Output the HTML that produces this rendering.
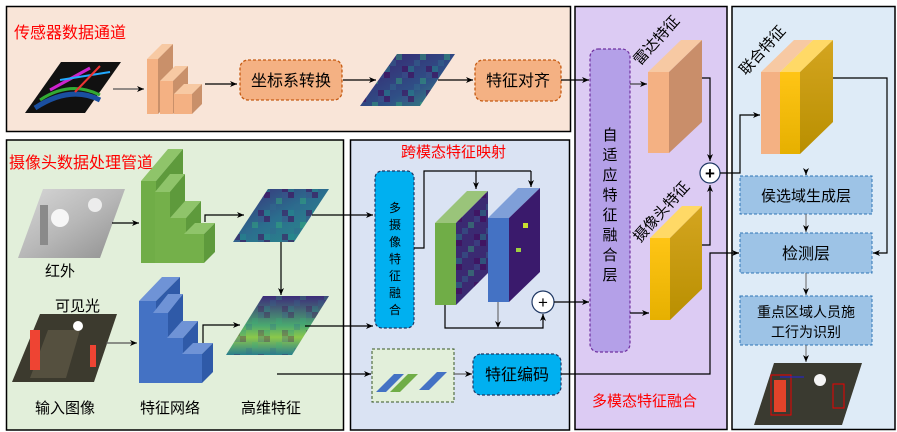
<!DOCTYPE html>
<html><head><meta charset="utf-8"><style>
html,body{margin:0;padding:0;background:#fff;}
svg{display:block;font-family:"Liberation Sans","Noto Sans CJK SC",sans-serif;}
</style></head><body>
<svg width="897" height="432" viewBox="0 0 897 432" xmlns="http://www.w3.org/2000/svg">
<defs>
<marker id="a" markerWidth="8" markerHeight="8" refX="7" refY="4" orient="auto" markerUnits="userSpaceOnUse"><path d="M0,1 L7,4 L0,7 L2,4Z" fill="#000"/></marker>
<linearGradient id="hm1" x1="0" y1="0" x2="1" y2="1"><stop offset="0" stop-color="#3b2a78"/><stop offset=".5" stop-color="#2b6e8e"/><stop offset="1" stop-color="#2a8f8a"/></linearGradient>
<linearGradient id="hm2" x1="0" y1="0" x2="0" y2="1"><stop offset="0" stop-color="#3d2c7a"/><stop offset=".5" stop-color="#4aa870"/><stop offset=".7" stop-color="#8cc84a"/><stop offset="1" stop-color="#2a7f8e"/></linearGradient>
<linearGradient id="hm0" x1="0" y1="0" x2="1" y2="1"><stop offset="0" stop-color="#3a1f6e"/><stop offset=".6" stop-color="#2f4f86"/><stop offset="1" stop-color="#3a8f80"/></linearGradient>
<pattern id="px" width="24" height="24" patternUnits="userSpaceOnUse">
<rect x="0" y="0" width="6" height="6" fill="#44015488"/><rect x="12" y="6" width="6" height="6" fill="#35b77966"/><rect x="6" y="12" width="6" height="6" fill="#31688e77"/><rect x="18" y="18" width="6" height="6" fill="#44015477"/><rect x="0" y="18" width="6" height="6" fill="#21918c66"/><rect x="18" y="0" width="6" height="6" fill="#3b528b77"/>
</pattern>
<linearGradient id="yel" x1="0" y1="0" x2="0" y2="1"><stop offset="0" stop-color="#ffc515"/><stop offset="1" stop-color="#e6b000"/></linearGradient>
<linearGradient id="yels" x1="0" y1="0" x2="0" y2="1"><stop offset="0" stop-color="#d4a520"/><stop offset="1" stop-color="#b98f00"/></linearGradient>
<linearGradient id="ir" x1="0" y1="0" x2="1" y2="1"><stop offset="0" stop-color="#d8d8d8"/><stop offset=".5" stop-color="#b8b8b8"/><stop offset="1" stop-color="#8f8f8f"/></linearGradient>
</defs>

<rect x="6.5" y="6.5" width="564" height="125" fill="#f9e5d8" stroke="#000" stroke-width="1.5"/>
<rect x="6.5" y="140" width="337" height="290" fill="#e2efda" stroke="#000" stroke-width="1.5"/>
<rect x="350.5" y="140" width="219" height="290" fill="#dae3f3" stroke="#000" stroke-width="1.5"/>
<rect x="575" y="6.5" width="152" height="423" fill="#dccbf3" stroke="#000" stroke-width="1.5"/>
<rect x="732" y="6.5" width="163" height="423" fill="#deebf7" stroke="#000" stroke-width="1.5"/>

<text x="14" y="38" font-size="16" fill="#ff0000">传感器数据通道</text>
<text x="9" y="168" font-size="16" fill="#ff0000">摄像头数据处理管道</text>
<text x="401" y="157" font-size="15" fill="#ff0000">跨模态特征映射</text>
<text x="592" y="406" font-size="15" fill="#ff0000">多模态特征融合</text>

<polygon points="25,113 61,62 121,62 85,113" fill="#111"/>
<path d="M35,108 Q70,85 100,100" stroke="#1a4fa0" stroke-width="5" fill="none"/>
<path d="M40,100 Q70,80 100,95" stroke="#3a3" stroke-width="3" fill="none"/>
<path d="M50,90 L90,68" stroke="#c2c" stroke-width="3"/>
<path d="M60,80 L110,72" stroke="#2af" stroke-width="2"/>
<path d="M75,92 L100,66" stroke="#e33" stroke-width="2"/>
<line x1="113" y1="89" x2="144" y2="89" stroke="#555" stroke-width="1.2" marker-end="url(#a)"/>
<g>
<polygon points="147,59 162,44 173,44 158,59" fill="#f7c9a3"/><polygon points="158,59 173,44 173,99 158,114" fill="#c9906a"/><rect x="147" y="59" width="11" height="55" fill="#f4b183"/>
<polygon points="160,81 175,66 188,66 173,81" fill="#f7c9a3"/><polygon points="173,81 188,66 188,99 173,114" fill="#c9906a"/><rect x="160" y="81" width="13" height="33" fill="#f4b183"/>
<polygon points="174,94 184,84 202,84 192,94" fill="#f7c9a3"/><polygon points="192,94 202,84 202,104 192,114" fill="#c9906a"/><rect x="174" y="94" width="18" height="20" fill="#f4b183"/>
</g>
<line x1="205" y1="84" x2="237" y2="84" stroke="#000" stroke-width="1.2" marker-end="url(#a)"/>
<rect x="240" y="60" width="102" height="40" rx="8" fill="#f4b183" stroke="#c55a11" stroke-width="1.3" stroke-dasharray="3,2"/>
<text x="291" y="86" font-size="16" text-anchor="middle" fill="#000">坐标系转换</text>
<line x1="343" y1="80" x2="376" y2="80" stroke="#000" stroke-width="1.2" marker-end="url(#a)"/>
<polygon points="360,106 397,54 455,54 420,106" fill="url(#hm0)"/>
<polygon points="360,106 397,54 455,54 420,106" fill="url(#px)"/>
<line x1="438" y1="80" x2="473" y2="80" stroke="#000" stroke-width="1.2" marker-end="url(#a)"/>
<rect x="475" y="60" width="86" height="41" rx="8" fill="#f4b183" stroke="#c55a11" stroke-width="1.3" stroke-dasharray="3,2"/>
<text x="518" y="86" font-size="16" text-anchor="middle" fill="#000">特征对齐</text>
<line x1="561" y1="80" x2="589" y2="80" stroke="#000" stroke-width="1.2" marker-end="url(#a)"/>

<polygon points="18,258 43,189 125,189 100,258" fill="url(#ir)"/>
<circle cx="60" cy="218" r="9" fill="#f6f6f6"/>
<circle cx="95" cy="205" r="7" fill="#ececec"/>
<rect x="40" y="205" width="8" height="40" fill="#8a8a8a"/>
<text x="45" y="276" font-size="15" fill="#000">红外</text>
<text x="55" y="311" font-size="15" fill="#000">可见光</text>
<polygon points="12,382 40,314 117,314 94,382" fill="#3c3a2e"/>
<polygon points="30,378 48,330 80,330 66,378" fill="#55503f"/>
<rect x="30" y="330" width="10" height="40" fill="#e43"/><rect x="90" y="345" width="6" height="22" fill="#e43"/>
<circle cx="78" cy="326" r="5" fill="#fff"/>
<text x="35" y="413" font-size="15" fill="#000">输入图像</text>
<text x="140" y="413" font-size="15" fill="#000">特征网络</text>
<text x="241" y="413" font-size="15" fill="#000">高维特征</text>

<line x1="112" y1="223" x2="139" y2="223" stroke="#000" stroke-width="1.2" marker-end="url(#a)"/>
<line x1="106" y1="343" x2="137" y2="343" stroke="#555" stroke-width="1.2" marker-end="url(#a)"/>
<g>
<polygon points="141,181 168,149 183,149 156,181" fill="#8fc46a"/><polygon points="156,181 183,149 183,232 156,263" fill="#5e9a3c"/><rect x="141" y="181" width="15" height="82" fill="#70ad47"/>
<polygon points="155,192 170,174 185,174 170,192" fill="#8fc46a"/><polygon points="170,192 185,174 185,245 170,263" fill="#5e9a3c"/><rect x="155" y="192" width="15" height="71" fill="#74b04a"/>
<polygon points="170,218 185,201 201,201 186,218" fill="#8fc46a"/><polygon points="186,218 201,201 201,246 186,263" fill="#5e9a3c"/><rect x="170" y="218" width="16" height="45" fill="#74b04a"/>
<polygon points="184,234 195,223 215,223 204,234" fill="#8fc46a"/><polygon points="204,234 215,223 215,252 204,263" fill="#5e9a3c"/><rect x="184" y="234" width="20" height="29" fill="#74b04a"/>
</g>
<g>
<polygon points="139,301 162,277 180,277 156,301" fill="#6f93d6"/><polygon points="156,301 180,277 180,360 156,383" fill="#2f5aa8"/><rect x="139" y="301" width="17" height="82" fill="#4472c4"/>
<polygon points="153,313 168,294 183,294 168,313" fill="#6f93d6"/><polygon points="168,313 183,294 183,366 168,383" fill="#2f5aa8"/><rect x="153" y="313" width="15" height="70" fill="#4472c4"/>
<polygon points="167,338 182,321 198,321 183,338" fill="#6f93d6"/><polygon points="183,338 198,321 198,366 183,383" fill="#2f5aa8"/><rect x="167" y="338" width="16" height="45" fill="#4472c4"/>
<polygon points="182,354 193,343 213,343 202,354" fill="#6f93d6"/><polygon points="202,354 213,343 213,372 202,383" fill="#2f5aa8"/><rect x="182" y="354" width="20" height="29" fill="#4472c4"/>
</g>
<polyline points="205,222 205,215 244,215" fill="none" stroke="#000" stroke-width="1.2" marker-end="url(#a)"/>
<polyline points="203,343 203,325 240,325" fill="none" stroke="#000" stroke-width="1.2" marker-end="url(#a)"/>
<polygon points="233,242 268,189 329,189 294,242" fill="url(#hm1)"/>
<polygon points="233,242 268,189 329,189 294,242" fill="url(#px)"/>
<polygon points="226,355 263,296 329,296 292,355" fill="url(#hm2)"/>
<polygon points="226,355 263,296 329,296 292,355" fill="url(#px)" opacity=".6"/>
<line x1="281" y1="242" x2="281" y2="295" stroke="#000" stroke-width="1.2" marker-end="url(#a)"/>
<line x1="312" y1="215" x2="373" y2="215" stroke="#000" stroke-width="1.2" marker-end="url(#a)"/>
<line x1="305" y1="326" x2="373" y2="326" stroke="#000" stroke-width="1.2" marker-end="url(#a)"/>
<line x1="277" y1="374" x2="371" y2="374" stroke="#000" stroke-width="1.2" marker-end="url(#a)"/>

<rect x="375" y="171" width="39" height="157" rx="7" fill="#00b0f0" stroke="#1f3864" stroke-width="1.2" stroke-dasharray="3,2"/>
<text font-size="12" fill="#000" text-anchor="middle"><tspan x="395" y="212">多</tspan><tspan x="395" y="229">摄</tspan><tspan x="395" y="246">像</tspan><tspan x="395" y="263">特</tspan><tspan x="395" y="280">征</tspan><tspan x="395" y="297">融</tspan><tspan x="395" y="314">合</tspan></text>
<polyline points="414,248 424,248 424,171 531,171" fill="none" stroke="#000" stroke-width="1.2"/>
<line x1="476" y1="171" x2="476" y2="189" stroke="#000" stroke-width="1.2" marker-end="url(#a)"/>
<line x1="531" y1="171" x2="531" y2="187" stroke="#000" stroke-width="1.2" marker-end="url(#a)"/>
<polygon points="435,223 467,191 488,191 456,223" fill="#9ac47a"/>
<polygon points="456,223 488,191 488,273 456,305" fill="#3b2a72"/>
<polygon points="456,223 488,191 488,273 456,305" fill="url(#px)"/>
<rect x="435" y="223" width="21" height="82" fill="#70ad47"/>
<polygon points="488,218 518,188 540,188 509,218" fill="#7f9fd8"/>
<polygon points="509,218 540,188 540,272 509,302" fill="#3a1a6c"/>
<rect x="523" y="223" width="5" height="5" fill="#c8e030"/><rect x="516" y="248" width="5" height="4" fill="#9fd040"/>
<rect x="488" y="218" width="21" height="84" fill="#4472c4"/>
<polyline points="445,305 445,328 543,328 543,314" fill="none" stroke="#000" stroke-width="1.2" marker-end="url(#a)"/>
<line x1="498" y1="302" x2="498" y2="328" stroke="#555" stroke-width="1" marker-end="url(#a)"/>
<circle cx="543" cy="302" r="11" fill="#fff" stroke="#1f3864" stroke-width="1.2"/>
<text x="543" y="308" font-size="17" text-anchor="middle" fill="#000">+</text>
<line x1="554" y1="302" x2="589" y2="302" stroke="#000" stroke-width="1.2" marker-end="url(#a)"/>

<rect x="372" y="349" width="82" height="53" fill="#e2efda" stroke="#385723" stroke-width="1" stroke-dasharray="3,2"/>
<polygon points="376,392 394,374 404,374 386,392" fill="#4472c4"/>
<polygon points="390,392 408,374 418,374 400,392" fill="#70ad47"/>
<polygon points="419,390 437,372 447,372 429,390" fill="#4472c4"/>
<line x1="454" y1="374" x2="472" y2="374" stroke="#666" stroke-width="1.2" marker-end="url(#a)"/>
<rect x="473" y="354" width="88" height="41" rx="8" fill="#00b0f0" stroke="#1f3864" stroke-width="1.2" stroke-dasharray="3,2"/>
<text x="517" y="380" font-size="16" text-anchor="middle" fill="#000">特征编码</text>

<rect x="590" y="49" width="40" height="303" rx="8" fill="#b4a0e8" stroke="#7030a0" stroke-width="1.2" stroke-dasharray="3,2"/>
<text font-size="15" fill="#000" text-anchor="middle"><tspan x="610" y="140">自</tspan><tspan x="610" y="160">适</tspan><tspan x="610" y="180">应</tspan><tspan x="610" y="200">特</tspan><tspan x="610" y="220">征</tspan><tspan x="610" y="240">融</tspan><tspan x="610" y="260">合</tspan><tspan x="610" y="280">层</tspan></text>
<line x1="630" y1="84" x2="647" y2="84" stroke="#444" stroke-width="1.2" marker-end="url(#a)"/>
<line x1="630" y1="313" x2="649" y2="313" stroke="#000" stroke-width="1.2" marker-end="url(#a)"/>
<text transform="translate(640,66) rotate(-48)" font-size="15" fill="#000">雷达特征</text>
<text transform="translate(640,243) rotate(-48)" font-size="15" fill="#000">摄像头特征</text>
<polygon points="648,72 681,40 702,40 669,72" fill="#f7c9a3"/>
<polygon points="669,72 702,40 702,122 669,153" fill="#c98e6a"/>
<rect x="648" y="72" width="21" height="81" fill="#f4b183"/>
<polygon points="650,238 682,206 702,206 670,238" fill="#ffd966"/>
<polygon points="670,238 702,206 702,289 670,320" fill="url(#yels)"/>
<rect x="650" y="238" width="20" height="82" fill="url(#yel)"/>
<polyline points="702,78 710,78 710,161" fill="none" stroke="#000" stroke-width="1.2" marker-end="url(#a)"/>
<polyline points="702,245 710,245 710,185" fill="none" stroke="#000" stroke-width="1.2" marker-end="url(#a)"/>
<circle cx="710" cy="173" r="10" fill="#fff" stroke="#1f3864" stroke-width="1.2"/>
<text x="710" y="179" font-size="17" font-weight="bold" text-anchor="middle" fill="#000">+</text>
<polyline points="561,374 710,374 710,253 739,253" fill="none" stroke="#000" stroke-width="1.2" marker-end="url(#a)"/>

<polyline points="720,173 740,173 740,115 760,115" fill="none" stroke="#000" stroke-width="1.2" marker-end="url(#a)"/>
<text transform="translate(746,76) rotate(-48)" font-size="15" fill="#000">联合特征</text>
<polygon points="761,72 794,40 813,40 780,72" fill="#f7c9a3"/>
<polygon points="780,72 813,40 833,40 800,72" fill="#ffd966"/>
<polygon points="800,72 833,40 833,122 800,154" fill="url(#yels)"/>
<rect x="761" y="72" width="19" height="82" fill="#f4b183"/>
<rect x="780" y="72" width="20" height="82" fill="url(#yel)"/>
<polyline points="833,78 887,78 887,253 873,253" fill="none" stroke="#000" stroke-width="1.2" marker-end="url(#a)"/>
<line x1="806" y1="170" x2="806" y2="175" stroke="#000" stroke-width="1.2" marker-end="url(#a)"/>
<rect x="740" y="176" width="132" height="38" fill="#9dc3e6" stroke="#2e75b6" stroke-width="1" stroke-dasharray="3,2"/>
<text x="806" y="201" font-size="15" text-anchor="middle" fill="#000">侯选域生成层</text>
<line x1="806" y1="214" x2="806" y2="232" stroke="#666" stroke-width="1" marker-end="url(#a)"/>
<rect x="740" y="233" width="132" height="40" fill="#9dc3e6" stroke="#2e75b6" stroke-width="1" stroke-dasharray="3,2"/>
<text x="806" y="259" font-size="16" text-anchor="middle" fill="#000">检测层</text>
<line x1="806" y1="273" x2="806" y2="295" stroke="#666" stroke-width="1" marker-end="url(#a)"/>
<rect x="740" y="296" width="132" height="49" fill="#9dc3e6" stroke="#2e75b6" stroke-width="1" stroke-dasharray="3,2"/>
<text x="806" y="317" font-size="14" text-anchor="middle" fill="#000">重点区域人员施</text>
<text x="806" y="337" font-size="14" text-anchor="middle" fill="#000">工行为识别</text>
<line x1="806" y1="345" x2="806" y2="362" stroke="#666" stroke-width="1" marker-end="url(#a)"/>
<polygon points="754,425 774,363 862,363 842,425" fill="#3a3a30"/>
<circle cx="820" cy="380" r="6" fill="#f4f4f4"/>
<rect x="771" y="375" width="20" height="40" fill="none" stroke="#e00" stroke-width="1"/>
<rect x="774" y="380" width="12" height="32" fill="#e3432a"/>
<rect x="833" y="384" width="11" height="24" fill="none" stroke="#e00" stroke-width="1"/>
<line x1="780" y1="377" x2="804" y2="377" stroke="#22d" stroke-width="1"/>
</svg>
</body></html>
